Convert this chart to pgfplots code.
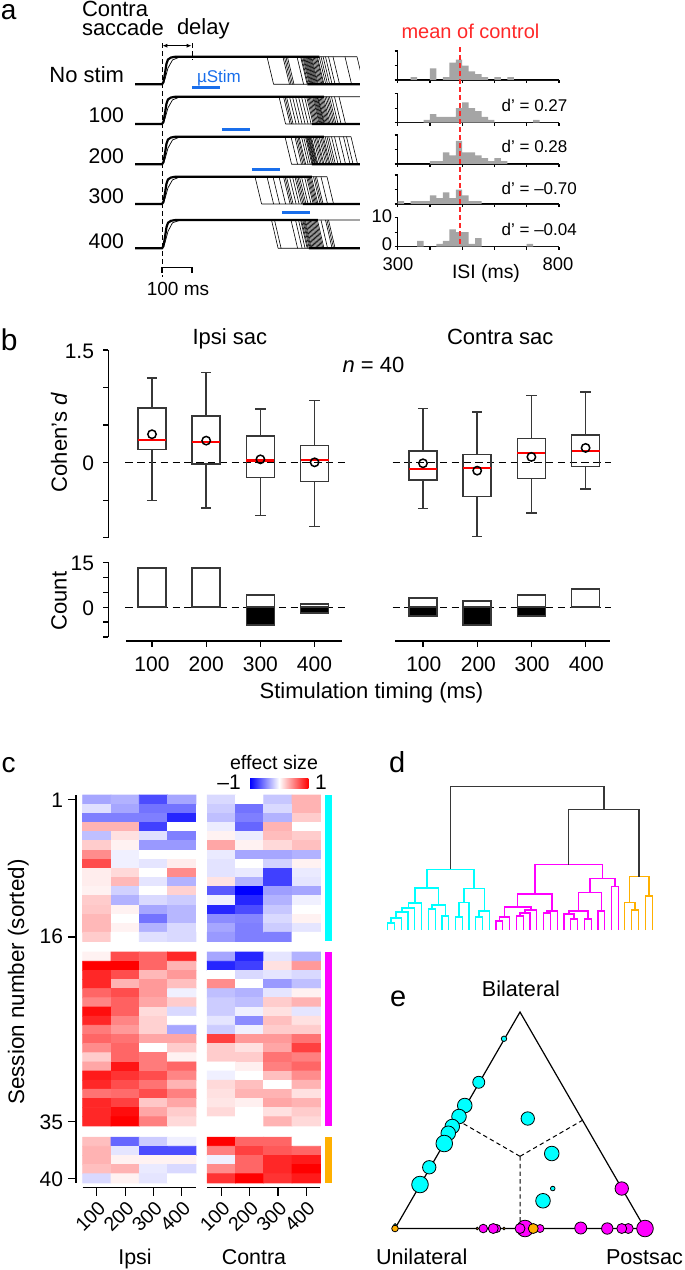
\documentclass[border=0pt]{standalone}
\usepackage{fontspec}
\setmainfont{Liberation Sans}
\usepackage{pgfplots}
\pgfplotsset{compat=1.18}
\usepgfplotslibrary{statistics}
\usetikzlibrary{arrows.meta}
\definecolor{mycyan}{RGB}{0,255,255}
\definecolor{mymag}{RGB}{255,0,255}
\definecolor{myor}{RGB}{255,176,0}
\definecolor{stimblue}{RGB}{25,110,235}
\definecolor{histgray}{RGB}{165,165,165}
\definecolor{boxgray}{RGB}{55,55,55}
\definecolor{dashred}{RGB}{255,40,40}
\tikzset{F/.style={font=\fontsize{#1}{#1}\selectfont, inner sep=0pt, outer sep=0pt}}
\pgfplotsset{
  every axis/.append style={scale only axis, /pgf/number format/assume math mode=true},
  hist/.style={width=80.65pt, height=14.5pt, anchor=south west, xmin=300, xmax=800, ymin=0, ymax=10,
    axis x line=bottom, axis y line=left, x axis line style={-}, y axis line style={-},
    axis line style={line width=0.6pt}, tick align=outside, major tick length=1.5pt,
    tick style={black, line width=0.6pt}, xtick={300,400,...,800}, ytick={0,5,10},
    xticklabels={}, yticklabels={}, clip=false},
  hbar/.style={ybar interval, fill=histgray, draw=none},
  bx/.style={draw=boxgray, line width=0.8pt, boxplot prepared={box extend=0.517, whisker extend=0.19, #1}},
}
\begin{document}
\begin{tikzpicture}[x=0.5pt, y=-0.5pt]
\useasboundingbox (0,0) rectangle (685,1270);

%================ panel a : traces =================
\begin{axis}[at={(67.5pt,-20pt)}, anchor=north west, width=112.5pt, height=125pt,
  xmin=-90, xmax=660, ymin=40, ymax=290, y dir=reverse, axis lines=none, clip=true, unbounded coords=jump]
\addplot[black, line width=0.5pt, dash pattern=on 2.5pt off 1.5pt] coordinates {(0,43)(0,277)};
\addplot[black, line width=0.5pt, dash pattern=on 2.5pt off 1.5pt] coordinates {(100,43)(100,60)};
\addplot[black, line width=0.5pt, {Latex[length=2.5pt,width=2pt]}-{Latex[length=2.5pt,width=2pt]}] coordinates {(1,45.7)(99,45.7)};
\addplot[black, line width=0.6pt] coordinates {(0,272.7)(0,267.7)(100,267.7)(100,272.7)};
\addplot[stimblue, line width=1.7pt] coordinates {(100,87.7)(193,87.7)(nan,nan)(200,129.3)(293,129.3)(nan,nan)(300,169.3)(393,169.3)(nan,nan)(400,212.3)(493,212.3)};
% No stim
\addplot[black, line width=1.1pt] coordinates {(-90,84.3)(0,84.3)(5,82.1)(10,73.3)(15,63.6)(20,59.5)(30,57.5)(45,56.7)(525,56.7)(nan,nan)(485,84.3)(660,84.3)};
\addplot[black, line width=0.35pt] coordinates {(0,84.3)(10,79)(20,68)(35,60)(60,56.9)(nan,nan)(525,56.7)(650,56.7)(nan,nan)(372,84.3)(485,84.3)};
\addplot[black, line width=0.3pt, quiver={u=22,v=27.6}, -] coordinates {(350,56.7)(403,56.7)(408,56.7)(413,56.7)(418,56.7)(450,56.7)(462,56.7)(465,56.7)(469,56.7)(472,56.7)(475,56.7)(478,56.7)(481,56.7)(484,56.7)(487,56.7)(490,56.7)(493,56.7)(496,56.7)(499,56.7)(503,56.7)(507,56.7)(511,56.7)(515,56.7)(518,56.7)(524,56.7)(530,56.7)(537,56.7)(545,56.7)(555,56.7)(570,56.7)(610,56.7)(650,56.7)};
% 100
\addplot[black, line width=1.1pt] coordinates {(-90,124)(0,124)(5,121.8)(10,113.1)(15,103.5)(20,99.4)(30,97.5)(45,96.7)(540,96.7)(nan,nan)(500,124)(660,124)};
\addplot[black, line width=0.35pt] coordinates {(0,124)(10,118.5)(20,107.8)(35,99.9)(60,96.9)(nan,nan)(540,96.7)(660,96.7)(nan,nan)(412,124)(500,124)};
\addplot[black, line width=0.3pt, quiver={u=22,v=27.3}, -] coordinates {(390,96.7)(405,96.7)(410,96.7)(415,96.7)(425,96.7)(435,96.7)(445,96.7)(455,96.7)(465,96.7)(475,96.7)(482,96.7)(486,96.7)(490,96.7)(494,96.7)(498,96.7)(502,96.7)(505,96.7)(508,96.7)(511,96.7)(514,96.7)(517,96.7)(519,96.7)(522,96.7)(526,96.7)(530,96.7)(534,96.7)(538,96.7)(543,96.7)(548,96.7)(553,96.7)(558,96.7)(565,96.7)(575,96.7)(590,96.7)(730,96.7)};
% 200
\addplot[black, line width=1.1pt] coordinates {(-90,164.3)(0,164.3)(5,162.1)(10,153.3)(15,143.6)(20,139.5)(30,137.5)(45,136.7)(540,136.7)(nan,nan)(500,164.3)(660,164.3)};
\addplot[black, line width=0.35pt] coordinates {(0,164.3)(10,159)(20,148)(35,140)(60,136.9)(nan,nan)(540,136.7)(630,136.7)(nan,nan)(432,164.3)(500,164.3)};
\addplot[black, line width=0.3pt, quiver={u=22,v=27.6}, -] coordinates {(410,136.7)(430,136.7)(443,136.7)(448,136.7)(453,136.7)(457,136.7)(465,136.7)(472,136.7)(478,136.7)(481,136.7)(483,136.7)(486,136.7)(488,136.7)(490,136.7)(493,136.7)(495,136.7)(498,136.7)(504,136.7)(509,136.7)(514,136.7)(518,136.7)(524,136.7)(529,136.7)(534,136.7)(538,136.7)(544,136.7)(550,136.7)(556,136.7)(565,136.7)(575,136.7)(590,136.7)(605,136.7)(615,136.7)(630,136.7)};
% 300
\addplot[black, line width=1.1pt] coordinates {(-90,204)(0,204)(5,201.8)(10,193.1)(15,183.5)(20,179.4)(30,177.5)(45,176.7)(500,176.7)(nan,nan)(470,204)(660,204)};
\addplot[black, line width=0.35pt] coordinates {(0,204)(10,198.5)(20,187.8)(35,179.9)(60,176.9)(nan,nan)(500,176.7)(550,176.7)(nan,nan)(332,204)(470,204)};
\addplot[black, line width=0.3pt, quiver={u=22,v=27.3}, -] coordinates {(310,176.7)(350,176.7)(370,176.7)(390,176.7)(405,176.7)(410,176.7)(415,176.7)(425,176.7)(435,176.7)(443,176.7)(448,176.7)(453,176.7)(458,176.7)(465,176.7)(475,176.7)(482,176.7)(486,176.7)(490,176.7)(494,176.7)(498,176.7)(505,176.7)(510,176.7)(515,176.7)(530,176.7)(550,176.7)};
% 400
\addplot[black, line width=1.1pt] coordinates {(-90,248.3)(0,248.3)(5,246)(10,237)(15,227.1)(20,222.8)(30,220.8)(45,220)(520,220)(nan,nan)(490,248.3)(660,248.3)};
\addplot[black, line width=0.35pt] coordinates {(0,248.3)(10,242.6)(20,231.3)(35,222.8)(60,220.2)(nan,nan)(520,220)(660,220)(nan,nan)(387,248.3)(490,248.3)};
\addplot[black, line width=0.3pt, quiver={u=22,v=28.3}, -] coordinates {(365,220)(375,220)(430,220)(445,220)(455,220)(462,220)(465,220)(469,220)(472,220)(475,220)(478,220)(482,220)(486,220)(490,220)(494,220)(498,220)(502,220)(506,220)(510,220)(514,220)(518,220)(530,220)(545,220)(550,220)(555,220)(710,220)};
\end{axis}

%================ panel a : histograms =================
\begin{axis}[hist, at={(198.85pt,-40pt)}]
\addplot[hbar] coordinates {(300,0)(320,0)(340,1)(360,0)(380,0)(400,4)(420,0)(440,1)(460,6)(480,7)(500,5)(520,3)(540,2)(560,1)(580,0)(600,1)(620,0)(640,1)(660,0)(800,0)};
\end{axis}
\begin{axis}[hist, at={(198.85pt,-61.35pt)}]
\addplot[hbar] coordinates {(300,0)(380,1)(400,3)(420,2)(440,2)(460,2)(480,5)(500,7)(520,5)(540,4)(560,2)(580,1)(600,0)(720,1)(740,0)(800,0)};
\end{axis}
\begin{axis}[hist, at={(198.85pt,-82pt)}]
\addplot[hbar] coordinates {(300,0)(400,1)(420,1)(440,4)(460,3)(480,8)(500,4)(520,4)(540,3)(560,2)(580,1)(600,2)(620,1)(640,0)(800,0)};
\end{axis}
\begin{axis}[hist, at={(198.85pt,-102pt)}]
\addplot[hbar] coordinates {(300,1)(320,0)(340,1)(360,1)(380,1)(400,3)(420,2)(440,4)(460,2)(480,5)(500,3)(520,1)(540,1)(560,0)(800,0)};
\end{axis}
\begin{axis}[hist, at={(198.85pt,-123.35pt)}]
\addplot[hbar] coordinates {(300,0)(360,2)(380,0)(420,1)(440,2)(460,6)(480,5)(500,5)(520,1)(540,3)(560,0)(700,1)(720,0)(800,0)};
\end{axis}
\begin{axis}[at={(198.85pt,-20pt)}, anchor=north west, width=80.65pt, height=105pt, xmin=300, xmax=800, ymin=40, ymax=250, y dir=reverse, axis lines=none, clip=false]
\addplot[draw=dashred, color=dashred, line width=1pt, dash pattern=on 2.5pt off 1.5pt] coordinates {(492,47)(492,247)};
\end{axis}

%================ panel b : box plots =================
\begin{axis}[at={(54.15pt,-175pt)}, anchor=north west, width=253.55pt, height=93.85pt,
  xmin=0.1937, xmax=9.55, ymin=-1, ymax=1.5, axis x line=none, axis y line=left,
  y axis line style={-, line width=0.6pt}, ytick={-1,-0.5,0,0.5,1,1.5}, yticklabels={},
  tick align=outside, major tick length=2.5pt, ytick style={black, line width=0.6pt},
  clip=false, unbounded coords=jump,
  boxplot/draw direction=y,
  boxplot/every median/.style={draw=red, line width=1.1pt},
  boxplot/every box/.style={draw=boxgray, line width=0.8pt},
  boxplot/every whisker/.style={draw=boxgray, line width=0.8pt}]
\addplot[black, line width=0.5pt, dash pattern=on 3.7pt off 2.2pt] coordinates {(0.509,0)(4.563,0)(nan,nan)(5.44,0)(9.47,0)};
\addplot[bx={draw position=1, lower whisker=-0.507, lower quartile=0.173, median=0.298, upper quartile=0.729, upper whisker=1.129}] coordinates {};
\addplot[bx={draw position=2, lower whisker=-0.604, lower quartile=-0.022, median=0.276, upper quartile=0.622, upper whisker=1.2}] coordinates {};
\addplot[bx={draw position=3, lower whisker=-0.702, lower quartile=-0.2, median=0.027, upper quartile=0.356, upper whisker=0.716}] coordinates {};
\addplot[bx={draw position=4, lower whisker=-0.849, lower quartile=-0.253, median=0.031, upper quartile=0.227, upper whisker=0.827}] coordinates {};
\addplot[bx={draw position=6, lower whisker=-0.609, lower quartile=-0.231, median=-0.08, upper quartile=0.156, upper whisker=0.72}] coordinates {};
\addplot[bx={draw position=7, lower whisker=-0.982, lower quartile=-0.449, median=-0.071, upper quartile=0.107, upper whisker=0.671}] coordinates {};
\addplot[bx={draw position=8, lower whisker=-0.667, lower quartile=-0.209, median=0.124, upper quartile=0.32, upper whisker=0.893}] coordinates {};
\addplot[bx={draw position=9, lower whisker=-0.351, lower quartile=-0.053, median=0.156, upper quartile=0.369, upper whisker=0.938}] coordinates {};
\addplot[only marks, mark=o, mark size=2.1pt, mark options={black, line width=0.75pt}] coordinates {(1,0.378)(2,0.293)(3,0.044)(4,0.004)(6,-0.009)(7,-0.107)(8,0.076)(9,0.196)};
\end{axis}

\begin{axis}[at={(54.15pt,-281.15pt)}, anchor=north west, width=253.55pt, height=37.35pt,
  xmin=0.1937, xmax=9.55, ymin=-10, ymax=15, axis x line=none, axis y line=left,
  y axis line style={-, line width=0.6pt}, ytick={-10,-5,0,5,10,15}, yticklabels={},
  tick align=outside, major tick length=2.5pt, ytick style={black, line width=0.6pt},
  clip=false, unbounded coords=jump]
\addplot[black, line width=0.5pt, dash pattern=on 3.7pt off 2.2pt] coordinates {(0.509,0)(4.563,0)(nan,nan)(5.44,0)(9.47,0)};
\addplot[ybar, bar width=0.517, bar shift=0pt, fill=white, draw=boxgray, line width=0.8pt] coordinates {(1,13)(2,13)(3,4)(4,1)(6,3)(7,2)(8,4)(9,6)};
\addplot[ybar, bar width=0.517, bar shift=0pt, fill=black, draw=boxgray, line width=0.8pt] coordinates {(3,-6)(4,-2)(6,-3)(7,-6)(8,-3)};
\addplot[black, line width=0.6pt] coordinates {(0.517,-11.34)(4.498,-11.34)(nan,nan)(5.49,-11.34)(9.456,-11.34)};
\addplot[black, line width=0.6pt] coordinates {(1,-11.34)(1,-13.25)(nan,nan)(2,-11.34)(2,-13.25)(nan,nan)(3,-11.34)(3,-13.25)(nan,nan)(4,-11.34)(4,-13.25)(nan,nan)(6,-11.34)(6,-13.25)(nan,nan)(7,-11.34)(7,-13.25)(nan,nan)(8,-11.34)(8,-13.25)(nan,nan)(9,-11.34)(9,-13.25)};
\end{axis}

%================ panel c : heat map =================
\begin{axis}[at={(38pt,-397.55pt)}, anchor=north west, width=122.2pt, height=193.9pt,
  xmin=0.263, xmax=8.9, ymin=0.5, ymax=42.88, y dir=reverse,
  axis x line=none, axis y line=left, y axis line style={-, line width=0.6pt},
  ytick={1,16,36.16,42.38}, yticklabels={}, tick align=outside, major tick length=4pt,
  ytick style={black, line width=0.6pt},
  colormap={bwr}{rgb255=(0,0,255) rgb255=(255,255,255) rgb255=(255,0,0)},
  point meta min=-1, point meta max=1, clip=false, unbounded coords=jump]
% Ipsi group 1
\addplot[matrix plot*, mesh/cols=4, point meta=explicit] table[meta=c, row sep=\\] {x y c\\
1 1 -0.35\\ 2 1 -0.30\\ 3 1 -0.70\\ 4 1 -0.35\\
1 2 -0.12\\ 2 2 -0.35\\ 3 2 -0.55\\ 4 2 -0.55\\
1 3 -0.50\\ 2 3 -0.50\\ 3 3 -0.50\\ 4 3 -0.85\\
1 4 0.30\\ 2 4 0.30\\ 3 4 -0.75\\ 4 4 0.00\\
1 5 -0.25\\ 2 5 0.12\\ 3 5 -0.12\\ 4 5 -0.50\\
1 6 0.20\\ 2 6 0.05\\ 3 6 -0.40\\ 4 6 -0.40\\
1 7 0.45\\ 2 7 -0.06\\ 3 7 0.00\\ 4 7 0.00\\
1 8 0.70\\ 2 8 -0.06\\ 3 8 -0.10\\ 4 8 0.07\\
1 9 0.07\\ 2 9 0.15\\ 3 9 0.00\\ 4 9 0.45\\
1 10 0.07\\ 2 10 0.28\\ 3 10 -0.10\\ 4 10 -0.30\\
1 11 0.05\\ 2 11 -0.18\\ 3 11 0.00\\ 4 11 0.18\\
1 12 0.20\\ 2 12 -0.30\\ 3 12 -0.15\\ 4 12 -0.20\\
1 13 0.22\\ 2 13 0.05\\ 3 13 -0.35\\ 4 13 -0.28\\
1 14 0.28\\ 2 14 0.00\\ 3 14 -0.55\\ 4 14 -0.28\\
1 15 0.28\\ 2 15 0.05\\ 3 15 -0.30\\ 4 15 -0.15\\
1 16 0.20\\ 2 16 0.00\\ 3 16 -0.12\\ 4 16 -0.15\\
};
% Ipsi group 2
\addplot[matrix plot*, mesh/cols=4, point meta=explicit] table[meta=c, row sep=\\] {x y c\\
1 18.16 0.05\\ 2 18.16 0.70\\ 3 18.16 0.60\\ 4 18.16 0.85\\
1 19.16 1.00\\ 2 19.16 1.00\\ 3 19.16 0.60\\ 4 19.16 0.30\\
1 20.16 0.85\\ 2 20.16 0.70\\ 3 20.16 0.28\\ 4 20.16 0.40\\
1 21.16 0.85\\ 2 21.16 0.30\\ 3 21.16 0.40\\ 4 21.16 0.25\\
1 22.16 0.60\\ 2 22.16 0.70\\ 3 22.16 0.40\\ 4 22.16 -0.06\\
1 23.16 0.48\\ 2 23.16 0.62\\ 3 23.16 0.35\\ 4 23.16 0.20\\
1 24.16 0.95\\ 2 24.16 0.62\\ 3 24.16 0.14\\ 4 24.16 -0.15\\
1 25.16 0.85\\ 2 25.16 0.48\\ 3 25.16 0.18\\ 4 25.16 0.00\\
1 26.16 0.52\\ 2 26.16 0.40\\ 3 26.16 0.18\\ 4 26.16 -0.35\\
1 27.16 0.60\\ 2 27.16 0.55\\ 3 27.16 0.35\\ 4 27.16 0.35\\
1 28.16 0.45\\ 2 28.16 0.60\\ 3 28.16 0.00\\ 4 28.16 0.20\\
1 29.16 0.20\\ 2 29.16 0.60\\ 3 29.16 0.52\\ 4 29.16 0.05\\
1 30.16 0.35\\ 2 30.16 0.92\\ 3 30.16 0.52\\ 4 30.16 0.60\\
1 31.16 0.90\\ 2 31.16 0.80\\ 3 31.16 0.70\\ 4 31.16 0.48\\
1 32.16 0.85\\ 2 32.16 0.70\\ 3 32.16 0.55\\ 4 32.16 0.30\\
1 33.16 0.55\\ 2 33.16 0.58\\ 3 33.16 0.70\\ 4 33.16 0.50\\
1 34.16 0.85\\ 2 34.16 0.75\\ 3 34.16 0.22\\ 4 34.16 0.35\\
1 35.16 0.85\\ 2 35.16 0.95\\ 3 35.16 0.35\\ 4 35.16 0.20\\
1 36.16 0.85\\ 2 36.16 1.00\\ 3 36.16 0.50\\ 4 36.16 0.15\\
};
% Ipsi group 3
\addplot[matrix plot*, mesh/cols=4, point meta=explicit] table[meta=c, row sep=\\] {x y c\\
1 38.38 0.25\\ 2 38.38 -0.60\\ 3 38.38 -0.20\\ 4 38.38 -0.06\\
1 39.38 0.30\\ 2 39.38 -0.10\\ 3 39.38 -0.70\\ 4 39.38 -0.70\\
1 40.38 0.30\\ 2 40.38 0.05\\ 3 40.38 0.05\\ 4 40.38 0.05\\
1 41.38 0.25\\ 2 41.38 0.30\\ 3 41.38 -0.08\\ 4 41.38 -0.15\\
1 42.38 -0.15\\ 2 42.38 0.05\\ 3 42.38 -0.10\\ 4 42.38 0.00\\
};
% Contra group 1
\addplot[matrix plot*, mesh/cols=4, point meta=explicit] table[meta=c, row sep=\\] {x y c\\
5.4 1 -0.15\\ 6.4 1 0.00\\ 7.4 1 -0.22\\ 8.4 1 0.30\\
5.4 2 -0.20\\ 6.4 2 -0.55\\ 7.4 2 -0.15\\ 8.4 2 0.30\\
5.4 3 -0.25\\ 6.4 3 -0.50\\ 7.4 3 -0.30\\ 8.4 3 0.20\\
5.4 4 -0.07\\ 6.4 4 -0.60\\ 7.4 4 0.30\\ 8.4 4 0.00\\
5.4 5 0.05\\ 6.4 5 -0.07\\ 7.4 5 0.26\\ 8.4 5 0.20\\
5.4 6 0.35\\ 6.4 6 0.05\\ 7.4 6 0.15\\ 8.4 6 0.25\\
5.4 7 -0.08\\ 6.4 7 -0.35\\ 7.4 7 -0.35\\ 8.4 7 -0.30\\
5.4 8 -0.11\\ 6.4 8 0.00\\ 7.4 8 -0.18\\ 8.4 8 0.05\\
5.4 9 -0.11\\ 6.4 9 -0.08\\ 7.4 9 -0.75\\ 8.4 9 -0.08\\
5.4 10 0.11\\ 6.4 10 -0.30\\ 7.4 10 -0.75\\ 8.4 10 -0.10\\
5.4 11 -0.65\\ 6.4 11 -1.00\\ 7.4 11 -0.38\\ 8.4 11 -0.35\\
5.4 12 -0.06\\ 6.4 12 -0.85\\ 7.4 12 -0.30\\ 8.4 12 -0.06\\
5.4 13 -0.85\\ 6.4 13 -0.70\\ 7.4 13 -0.22\\ 8.4 13 0.00\\
5.4 14 -0.45\\ 6.4 14 -0.48\\ 7.4 14 -0.15\\ 8.4 14 0.05\\
5.4 15 -0.35\\ 6.4 15 -0.50\\ 7.4 15 -0.20\\ 8.4 15 -0.10\\
5.4 16 -0.40\\ 6.4 16 -0.50\\ 7.4 16 -0.50\\ 8.4 16 0.00\\
};
% Contra group 2
\addplot[matrix plot*, mesh/cols=4, point meta=explicit] table[meta=c, row sep=\\] {x y c\\
5.4 18.16 -0.35\\ 6.4 18.16 -0.85\\ 7.4 18.16 -0.10\\ 8.4 18.16 -0.30\\
5.4 19.16 -0.85\\ 6.4 19.16 -0.75\\ 7.4 19.16 0.12\\ 8.4 19.16 0.40\\
5.4 20.16 0.00\\ 6.4 20.16 -0.15\\ 7.4 20.16 -0.10\\ 8.4 20.16 -0.15\\
5.4 21.16 0.45\\ 6.4 21.16 0.00\\ 7.4 21.16 -0.40\\ 8.4 21.16 -0.25\\
5.4 22.16 -0.25\\ 6.4 22.16 -0.30\\ 7.4 22.16 -0.10\\ 8.4 22.16 0.05\\
5.4 23.16 -0.20\\ 6.4 23.16 -0.25\\ 7.4 23.16 0.20\\ 8.4 23.16 0.30\\
5.4 24.16 -0.20\\ 6.4 24.16 -0.06\\ 7.4 24.16 0.12\\ 8.4 24.16 -0.10\\
5.4 25.16 -0.10\\ 6.4 25.16 -0.45\\ 7.4 25.16 0.25\\ 8.4 25.16 0.12\\
5.4 26.16 -0.20\\ 6.4 26.16 -0.06\\ 7.4 26.16 0.20\\ 8.4 26.16 0.20\\
5.4 27.16 0.75\\ 6.4 27.16 0.40\\ 7.4 27.16 0.40\\ 8.4 27.16 0.55\\
5.4 28.16 0.20\\ 6.4 28.16 0.12\\ 7.4 28.16 0.35\\ 8.4 28.16 0.75\\
5.4 29.16 0.20\\ 6.4 29.16 0.20\\ 7.4 29.16 0.55\\ 8.4 29.16 0.50\\
5.4 30.16 0.00\\ 6.4 30.16 0.06\\ 7.4 30.16 0.50\\ 8.4 30.16 0.60\\
5.4 31.16 -0.06\\ 6.4 31.16 0.00\\ 7.4 31.16 0.25\\ 8.4 31.16 0.45\\
5.4 32.16 0.15\\ 6.4 32.16 0.25\\ 7.4 32.16 0.00\\ 8.4 32.16 0.30\\
5.4 33.16 0.12\\ 6.4 33.16 0.30\\ 7.4 33.16 0.30\\ 8.4 33.16 0.12\\
5.4 34.16 0.10\\ 6.4 34.16 0.06\\ 7.4 34.16 0.35\\ 8.4 34.16 0.30\\
5.4 35.16 0.15\\ 6.4 35.16 0.00\\ 7.4 35.16 0.12\\ 8.4 35.16 0.20\\
5.4 36.16 0.00\\ 6.4 36.16 0.00\\ 7.4 36.16 0.30\\ 8.4 36.16 0.15\\
};
% Contra group 3
\addplot[matrix plot*, mesh/cols=4, point meta=explicit] table[meta=c, row sep=\\] {x y c\\
5.4 38.38 1.00\\ 6.4 38.38 0.60\\ 7.4 38.38 0.60\\ 8.4 38.38 0.00\\
5.4 39.38 0.50\\ 6.4 39.38 0.75\\ 7.4 39.38 0.65\\ 8.4 39.38 0.60\\
5.4 40.38 -0.06\\ 6.4 40.38 0.60\\ 7.4 40.38 0.85\\ 8.4 40.38 0.90\\
5.4 41.38 0.45\\ 6.4 41.38 0.60\\ 7.4 41.38 0.85\\ 8.4 41.38 1.00\\
5.4 42.38 0.80\\ 6.4 42.38 1.00\\ 7.4 42.38 0.80\\ 8.4 42.38 0.90\\
};
\addplot[black, line width=0.6pt] coordinates {(0.5,43.42)(4.5,43.42)(nan,nan)(4.9,43.42)(8.9,43.42)};
\addplot[black, line width=0.6pt] coordinates {(1,43.42)(1,44.28)(nan,nan)(2,43.42)(2,44.28)(nan,nan)(3,43.42)(3,44.28)(nan,nan)(4,43.42)(4,44.28)(nan,nan)(5.4,43.42)(5.4,44.28)(nan,nan)(6.4,43.42)(6.4,44.28)(nan,nan)(7.4,43.42)(7.4,44.28)(nan,nan)(8.4,43.42)(8.4,44.28)};
\end{axis}

%================ panel d : dendrogram =================
\begin{axis}[at={(193.85pt,-393.2pt)}, anchor=north west, width=132.3pt, height=71.8pt,
  xmin=83, xmax=877, ymin=345, ymax=708, y dir=reverse, axis lines=none, clip=false, unbounded coords=jump]
\addplot[mycyan, line width=0.75pt] coordinates {
(83,708)(83,690)(103,690)(103,708)(nan,nan)
(93,690)(93,678)(124,678)(124,708)(nan,nan)
(108.5,678)(108.5,662)(144,662)(144,708)(nan,nan)
(126,662)(126,652)(164,652)(164,708)(nan,nan)
(145,652)(145,640)(185,640)(185,708)(nan,nan)
(205,708)(205,655)(226,655)(226,708)(nan,nan)
(246,708)(246,672)(266,672)(266,708)(nan,nan)
(215.5,655)(215.5,645)(256,645)(256,672)(nan,nan)
(165,640)(165,602)(235.75,602)(235.75,645)(nan,nan)
(286,708)(286,675)(307,675)(307,708)(nan,nan)
(296.5,675)(296.5,638)(327,638)(327,708)(nan,nan)
(347,708)(347,675)(368,675)(368,708)(nan,nan)
(357.5,675)(357.5,660)(388,660)(388,708)(nan,nan)
(311.75,638)(311.75,603)(372.75,603)(372.75,660)(nan,nan)
(200.4,602)(200.4,555)(342.25,555)(342.25,603)};
\addplot[mymag, line width=0.75pt] coordinates {
(408,708)(408,685)(428,685)(428,708)(nan,nan)
(418,685)(418,675)(449,675)(449,708)(nan,nan)
(469,708)(469,672)(490,672)(490,708)(nan,nan)
(479.5,672)(479.5,665)(510,665)(510,708)(nan,nan)
(494.75,665)(494.75,658)(530,658)(530,708)(nan,nan)
(433.5,675)(433.5,650)(512.4,650)(512.4,658)(nan,nan)
(551,708)(551,665)(571,665)(571,708)(nan,nan)
(561,665)(561,660)(592,660)(592,708)(nan,nan)
(473,650)(473,617)(576.5,617)(576.5,660)(nan,nan)
(632,708)(632,680)(653,680)(653,708)(nan,nan)
(612,708)(612,668)(642.5,668)(642.5,680)(nan,nan)
(673,708)(673,680)(694,680)(694,708)(nan,nan)
(627.25,668)(627.25,660)(683.5,660)(683.5,680)(nan,nan)
(714,708)(714,660)(734,660)(734,708)(nan,nan)
(655.4,660)(655.4,613)(724,613)(724,660)(nan,nan)
(755,708)(755,598)(775,598)(775,708)(nan,nan)
(689.7,613)(689.7,578)(765,578)(765,598)(nan,nan)
(524.75,617)(524.75,543)(727.3,543)(727.3,578)};
\addplot[myor, line width=0.75pt] coordinates {
(814,708)(814,657)(835,657)(835,708)(nan,nan)
(793,708)(793,638)(824.5,638)(824.5,657)(nan,nan)
(856,708)(856,622)(877,622)(877,708)(nan,nan)
(808.75,638)(808.75,573)(866.5,573)(866.5,622)};
\addplot[boxgray, line width=0.75pt] coordinates {
(626,543)(626,403)(837.6,403)(837.6,573)(nan,nan)
(271.5,555)(271.5,345)(731.8,345)(731.8,403)};
\end{axis}

%================ panel e : ternary =================
\begin{axis}[at={(197.5pt,-614.25pt)}, anchor=south west, width=125pt, height=108.25pt,
  xmin=0, xmax=1, ymin=0, ymax=0.866, axis lines=none, clip=false, unbounded coords=jump]
\addplot[black, line width=0.6pt] coordinates {(0,0)(1,0)(0.5,0.866)(0,0)};
\addplot[black, line width=0.5pt, dash pattern=on 2.2pt off 1.6pt] coordinates {(0.5,0.2887)(0.25,0.433)(nan,nan)(0.5,0.2887)(0.75,0.433)(nan,nan)(0.5,0.2887)(0.5,0)};
\addplot[scatter, only marks, mark=*, scatter/use mapped color={draw=none, fill=mycyan},
  visualization depends on={\thisrow{r} \as \msize},
  scatter/@pre marker code/.append style={/tikz/mark size=\msize}] table[row sep=\\] {x y r\\
0.436 0.759 1.35\\ 0.335 0.585 3\\ 0.279 0.492 3.65\\ 0.256 0.448 3.65\\ 0.229 0.408 3.65\\
0.213 0.381 3.65\\ 0.197 0.340 4.15\\ 0.137 0.245 3.35\\ 0.100 0.176 4.15\\ 0.0 0.013 0.85\\
0.531 0.440 3.35\\ 0.627 0.300 3.65\\ 0.631 0.160 1.15\\ 0.592 0.111 3.65\\};
\addplot[scatter, only marks, mark=*, scatter/use mapped color={draw=none, fill=mymag},
  visualization depends on={\thisrow{r} \as \msize},
  scatter/@pre marker code/.append style={/tikz/mark size=\msize}] table[row sep=\\] {x y r\\
0.907 0.160 3.35\\ 1.0 0 4.15\\ 0.933 0 2.5\\ 0.907 0 2.5\\ 0.849 0 2.85\\ 0.743 0.002 3\\
0.58 0 2\\ 0.52 0 4.15\\ 0.5 0 2.5\\ 0.407 0 2\\ 0.393 0 2.5\\ 0.353 0 2.15\\};
\addplot[scatter, only marks, mark=*, scatter/use mapped color={draw=none, fill=myor},
  visualization depends on={\thisrow{r} \as \msize},
  scatter/@pre marker code/.append style={/tikz/mark size=\msize}] table[row sep=\\] {x y r\\
0.553 0 2.5\\ 0 0 1.65\\ 0.436 0 0.65\\ 0.329 0 0.65\\};
\end{axis}

%================ text, legends =================
% panel a
\node[F=14, anchor=base west] at (1,19) {a};
\node[F=11, anchor=base west] at (82,16.7) {Contra};
\node[F=11, anchor=base west] at (82,35.5) {saccade};
\node[F=11, anchor=base west] at (177,34.5) {delay};
\node[F=11, anchor=base east] at (124,82.7) {No stim};
\node[F=10.6, anchor=base east] at (124,122.7) {100};
\node[F=10.6, anchor=base east] at (124,163.3) {200};
\node[F=10.6, anchor=base east] at (124,203.3) {300};
\node[F=10.6, anchor=base east] at (124,248.3) {400};
\node[F=8.5, anchor=base west, text=stimblue] at (197,82) {µStim};
\node[F=9.5, anchor=base] at (178,295) {100 ms};
\node[F=10, anchor=base, text=dashred] at (470.5,38.3) {mean of control};
\node[F=8.5, anchor=base west] at (501.7,111.5) {d’ = 0.27};
\node[F=8.5, anchor=base west] at (501.7,152.5) {d’ = 0.28};
\node[F=8.5, anchor=base west] at (501.7,194) {d’ = –0.70};
\node[F=8.5, anchor=base west] at (501.7,235) {d’ = –0.04};
\node[F=9.2, anchor=base east] at (392,222.5) {10};
\node[F=9.2, anchor=base east] at (392,250.7) {0};
\node[F=9.2, anchor=base] at (398,270.5) {300};
\node[F=9.2, anchor=base] at (558,270.5) {800};
\node[F=9.7, anchor=base] at (486,278.3) {ISI (ms)};
% panel b
\node[F=15, anchor=base west] at (1,350) {b};
\node[F=11, anchor=base] at (229.8,344.3) {Ipsi sac};
\node[F=11, anchor=base] at (500.2,344.3) {Contra sac};
\node[F=11, anchor=base] at (373.5,372.3) {\textit{n} = 40};
\node[F=11, rotate=90] at (59,442.6) {Cohen’s \textit{d}};
\node[F=11, rotate=90] at (59,601) {Count};
\node[F=10.5, anchor=base east] at (94,358.3) {1.5};
\node[F=10.5, anchor=base east] at (94,470) {0};
\node[F=10.5, anchor=base east] at (94,570) {15};
\node[F=10.5, anchor=base east] at (94,615) {0};
\foreach \px/\lab in {152/100,206.2/200,260.4/300,314.5/400,423.8/100,478.4/200,532.1/300,586.3/400}
  \node[F=10.5, anchor=base] at (\px,671.7) {\lab};
\node[F=11, anchor=base] at (371.5,698.2) {Stimulation timing (ms)};
% panel c
\node[F=14, anchor=base west] at (1.7,772.6) {c};
\node[F=9.8, anchor=base] at (274,769.8) {effect size};
\shade[left color=blue, right color=red, middle color=white] (250,778.5) rectangle (308.3,788.4);
\node[F=10.5, anchor=base east] at (240.7,789.6) {–1};
\node[F=10.5, anchor=base west] at (315,789.6) {1};
\node[F=10.5, anchor=base east] at (63,807) {1};
\node[F=10.5, anchor=base east] at (63,943) {16};
\node[F=10.5, anchor=base east] at (63,1129) {35};
\node[F=10.5, anchor=base east] at (63,1186) {40};
\foreach \px/\lab in {96.9/100,125.2/200,153.5/300,181.8/400,221.4/100,249.7/200,278/300,306.3/400}
  \node[F=9.8, rotate=45, anchor=east] at (\px+5,1205) {\lab};
\node[F=10.7, anchor=base] at (135,1264.5) {Ipsi};
\node[F=10.7, anchor=base] at (254,1264.5) {Contra};
\node[F=11.2, rotate=90] at (18.3,982) {Session number (sorted)};
\fill[mycyan] (325,795.1) rectangle (331.7,941.4);
\fill[mymag] (325,952.1) rectangle (331.7,1126.1);
\fill[myor] (325,1137.1) rectangle (331.7,1183);
% panels d, e
\node[F=14.5, anchor=base west] at (389,772.6) {d};
\node[F=14.5, anchor=base west] at (390,1006) {e};
\node[F=10.8, anchor=base] at (521,996.8) {Bilateral};
\node[F=10.8, anchor=base] at (421.7,1264.5) {Unilateral};
\node[F=10.8, anchor=base west] at (606,1264.5) {Postsac};
\end{tikzpicture}
\end{document}
